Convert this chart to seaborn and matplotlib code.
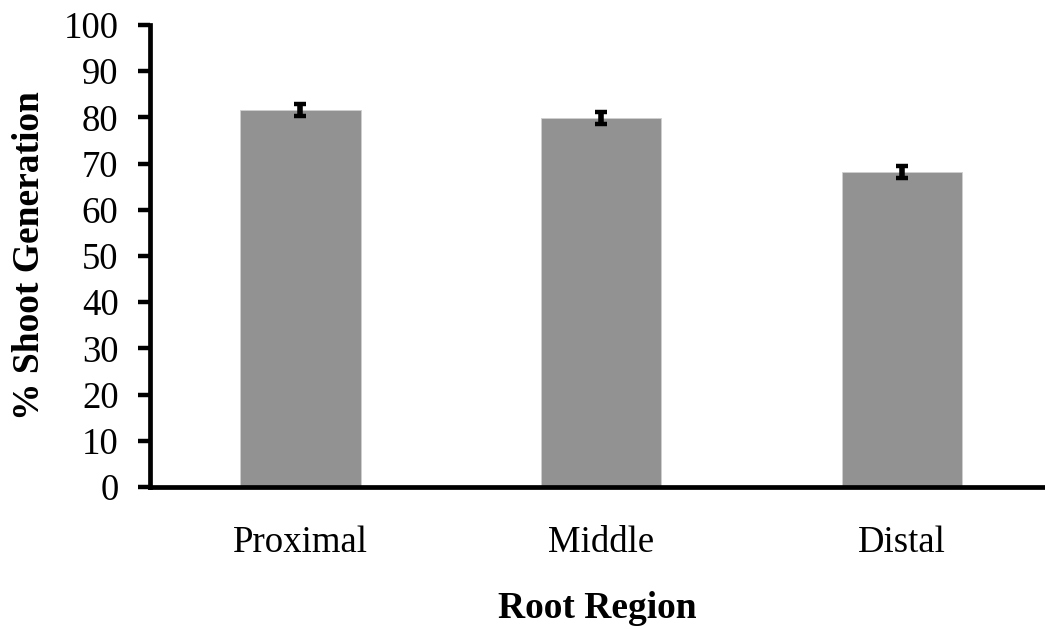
import numpy as np
import pandas as pd
import matplotlib
matplotlib.use('Agg')
import matplotlib.pyplot as plt
import seaborn as sns

# == DATA ==
regions = ['Proximal', 'Middle', 'Distal']
shoot_pct = [81.6, 79.9, 68.2]
shoot_err = [1.4, 1.3, 1.3]

df = pd.DataFrame({'region': regions, 'shoot': shoot_pct, 'err': shoot_err})

# == STYLE ==
sns.set_theme(style="white", rc={'text.color': 'black', 'axes.labelcolor': 'black',
                                 'xtick.color': 'black', 'ytick.color': 'black'})
plt.rcParams['font.family'] = ['Liberation Serif', 'DejaVu Serif']

fig = plt.figure(figsize=(10.45, 6.29), dpi=100)
ax = fig.add_axes([0.1435, 0.2258, 0.8565, 0.7345])

sns.barplot(data=df, x='region', y='shoot', color='#929292', width=0.4,
            saturation=1, errorbar=None, edgecolor='#d0d0d0', linewidth=0.6, ax=ax)
ax.errorbar(np.arange(len(regions)), df['shoot'], yerr=df['err'], fmt='none',
            ecolor='black', elinewidth=4, capsize=4.5, capthick=3.2)

ax.set_ylim(0, 100)
ax.set_yticks(range(0, 101, 10))
ax.set_xlim(-0.5, 2.475)

for s in ['top', 'right']:
    ax.spines[s].set_visible(False)
for s in ['left', 'bottom']:
    ax.spines[s].set_linewidth(3.4)
    ax.spines[s].set_color('black')

ax.tick_params(axis='y', which='major', direction='out', length=8.6, width=3.2,
               color='black', labelcolor='black', labelsize=26.5, pad=14, left=True)
ax.tick_params(axis='x', length=0, labelcolor='black', labelsize=26.5, pad=28)

ax.set_xlabel('Root Region', fontsize=27, fontweight='bold', labelpad=22, color='black')
ax.set_ylabel('% Shoot Generation', fontsize=27, fontweight='bold', labelpad=12, color='black')

plt.savefig('out.png', dpi=100)
plt.close()
